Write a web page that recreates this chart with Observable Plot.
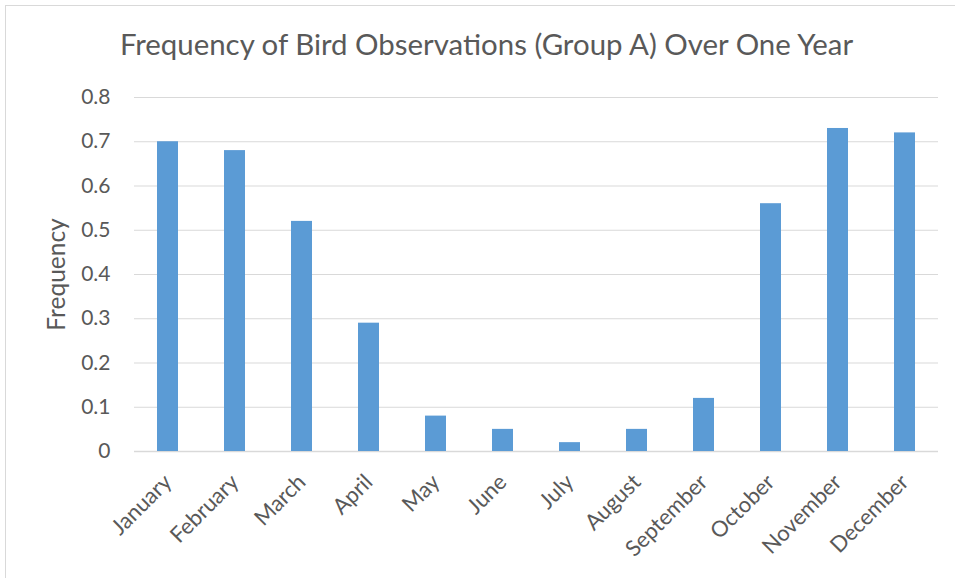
<!DOCTYPE html>
<html>
<head>
<meta charset="utf-8">
<script src="https://cdn.jsdelivr.net/npm/d3@7"></script>
<script src="https://cdn.jsdelivr.net/npm/@observablehq/plot@0.6"></script>
<style>
  html, body { margin: 0; padding: 0; background: #fff; }
  #wrap { position: relative; width: 955px; height: 578px; overflow: hidden; background: #fff; }
  #border { position: absolute; left: 5px; top: 5px; width: 980px; height: 600px; border: 1px solid #d9d9d9; box-sizing: border-box; }
  #title { position: absolute; left: 0; top: 26px; width: 973px; text-align: center; font-family: Lato, sans-serif; font-size: 29.4px; line-height: 35px; color: #595959; white-space: nowrap; }
  #chart { position: absolute; left: 0; top: 70px; }
</style>
</head>
<body>
<div id="wrap">
  <div id="border"></div>
  <div id="title"></div>
  <div id="chart"></div>
</div>
<script>
const titleText = "Frequency of Bird Observations (Group A) Over One Year";
const yTitle = "Frequency";
const months = ["January","February","March","April","May","June","July","August","September","October","November","December"];
const frequency = [0.70, 0.68, 0.52, 0.29, 0.08, 0.05, 0.02, 0.05, 0.12, 0.56, 0.73, 0.72];
const yTicks = [0, 0.1, 0.2, 0.3, 0.4, 0.5, 0.6, 0.7, 0.8];

const data = months.map((m, i) => ({month: m, value: frequency[i]}));
document.getElementById("title").textContent = titleText;

const textColor = "#595959";
const gridColor = "#d9d9d9";

const chart = Plot.plot({
  width: 955,
  height: 508,
  marginTop: 27,
  marginBottom: 127,
  marginLeft: 134,
  marginRight: 17,
  style: {fontFamily: "Lato, sans-serif", color: textColor, background: "transparent"},
  x: {domain: months, paddingInner: 0.687, paddingOuter: 0.3435, label: null},
  y: {domain: [0, 0.8], label: null},
  marks: [
    Plot.gridY(yTicks, {stroke: gridColor, strokeOpacity: 1, strokeWidth: 1}),
    Plot.ruleY([0], {stroke: gridColor, strokeWidth: 1.3}),
    Plot.barY(data, {x: "month", y: "value", fill: "#5b9bd5"}),
    Plot.axisY({ticks: yTicks, tickSize: 0, tickPadding: 24, tickFormat: d => String(d), fontSize: 21, fill: textColor, label: null}),
    Plot.axisX({tickSize: 0, tickPadding: 27, tickRotate: -45, fontSize: 22, fill: textColor, label: null}),
    Plot.text([yTitle], {text: d => d, frameAnchor: "left", dx: -77, rotate: -90, textAnchor: "middle", lineAnchor: "middle", fontSize: 24.5, fill: textColor})
  ]
});
document.getElementById("chart").appendChild(chart);
</script>
</body>
</html>
